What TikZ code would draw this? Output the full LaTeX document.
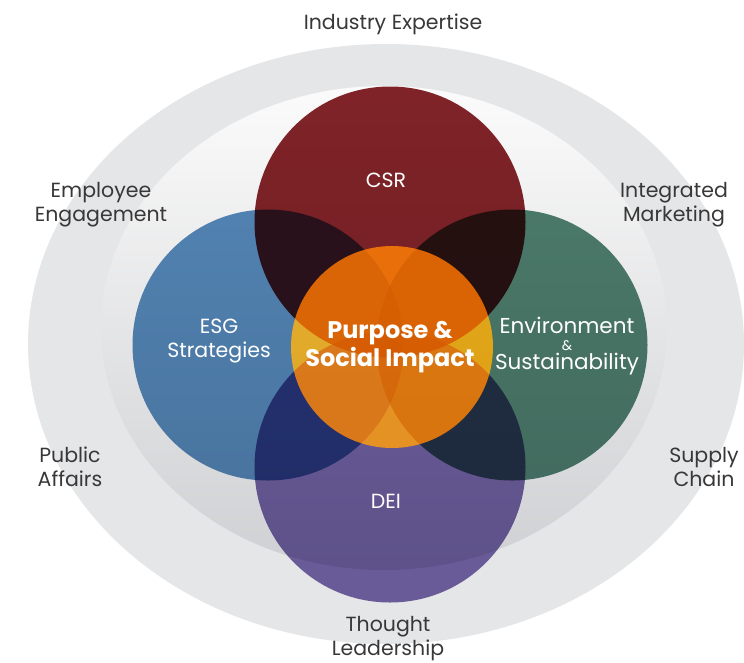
\documentclass[tikz,border=0pt]{standalone}
\usepackage{fontspec}
\setmainfont{Poppins}
\usetikzlibrary{shapes.geometric}

\definecolor{ringgray}{HTML}{E5E6E8}
\definecolor{innertop}{HTML}{FBFBFB}
\definecolor{innerbot}{HTML}{CFD0D3}
\definecolor{csrred}{HTML}{822429}
\definecolor{esgblue}{HTML}{578ABB}
\definecolor{envgreen}{HTML}{4F806F}
\definecolor{deipurple}{HTML}{7565A7}
\definecolor{coreorange}{HTML}{E9AC20}
\definecolor{labelgray}{HTML}{383838}

\begin{document}
\begin{tikzpicture}[x=1pt,y=-1pt,
  outerlabel/.style={text=labelgray,font=\fontsize{20.5}{24}\selectfont,align=center},
  innerlabel/.style={text=white,font=\fontsize{20.5}{24}\selectfont,align=center},
  envline/.style={text=white,font=\fontsize{21.5}{24}\selectfont,anchor=base,inner sep=0pt},
  corelabel/.style={text=white,font=\fontsize{24}{28}\selectfont\bfseries,align=center},
  petal/.style={circle,minimum size=271pt,inner sep=0pt}]
\useasboundingbox (0,0) rectangle (744,662);

% outer ring and inner field
\fill[ringgray] (386,344) ellipse [x radius=358, y radius=300];
\shade[top color=innertop,bottom color=innerbot]
  (384,328) ellipse [x radius=283, y radius=242];

% the four overlapping circles, multiplied together
\begin{scope}[blend mode=multiply]
  \node[petal,fill=csrred]    (csr) at (390,222) {};
  \node[petal,fill=esgblue]   (esg) at (268,345) {};
  \node[petal,fill=envgreen]  (env) at (512,345) {};
  \node[petal,fill=deipurple] (dei) at (390,467) {};
\end{scope}

% centre circle
\begin{scope}[blend mode=hard light]
  \node[circle,minimum size=202pt,inner sep=0pt,fill=coreorange] (core) at (392,347) {};
\end{scope}

% labels inside the circles
\node[innerlabel] (csrtext) at (386,180) {CSR};
\node[innerlabel] (esgtext) at (219,341) {ESG\\Strategies};
\node[envline] (envtext1) at (567,333) {Environment};
\node[envline,font=\fontsize{14}{14}\selectfont] (envtext2) at (567,350) {\&};
\node[envline] (envtext3) at (567,369) {Sustainability};
\node[innerlabel] (deitext) at (386,501) {DEI};
\node[corelabel] (coretext) at (390,347) {Purpose \&\\Social Impact};

% labels round the ring
\node[outerlabel] (industry) at (393,24) {Industry Expertise};
\node[outerlabel] (employee) at (101,205) {Employee\\Engagement};
\node[outerlabel] (marketing) at (674,205) {Integrated\\Marketing};
\node[outerlabel] (public) at (70,467) {Public\\Affairs};
\node[outerlabel] (supply) at (704,467) {Supply\\Chain};
\node[outerlabel,inner sep=0pt] (thought) at (388,639) {Thought\\Leadership};
\end{tikzpicture}
\end{document}
